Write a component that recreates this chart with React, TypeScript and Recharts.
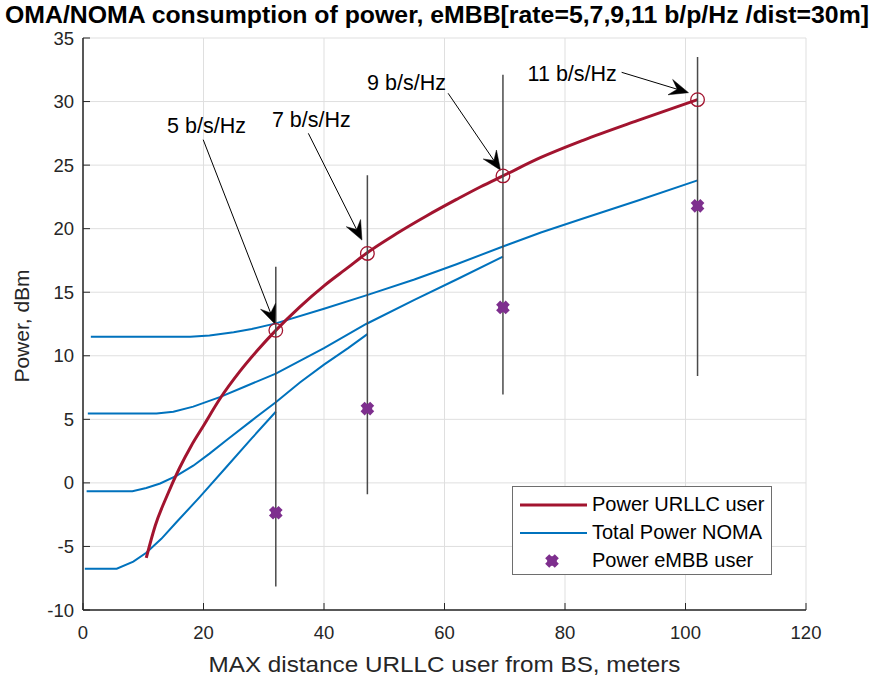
import React from 'react';
import {
  ComposedChart,
  Line,
  Scatter,
  XAxis,
  YAxis,
  CartesianGrid,
  ReferenceLine,
  ReferenceDot,
  Legend,
} from 'recharts';

const FONT = "'Liberation Sans', Arial, Helvetica, sans-serif";
const TITLE_FONT = "'Liberation Sans Narrow', 'Arial Narrow', 'Liberation Sans', Arial, sans-serif";
const RED = '#A2142F';
const BLUE = '#0072BD';
const PURPLE = '#7E2F8E';
const AXIS = '#262626';

const titleText = 'OMA/NOMA consumption  of power, eMBB[rate=5,7,9,11 b/p/Hz /dist=30m]';
const xLabelText = 'MAX distance URLLC user from BS, meters';
const yLabelText = 'Power, dBm';

const xTicks = [0, 20, 40, 60, 80, 100, 120];
const yTicks = [-10, -5, 0, 5, 10, 15, 20, 25, 30, 35];

// Power URLLC user (red curve)
const urllcX = [10.5, 12, 14, 16, 18, 20, 22.7, 26, 29, 32, 36, 40, 44, 47, 52, 57, 62, 66, 69.7, 76, 83, 92, 102];
const urllcY = [-5.9, -3.35, -0.95, 1.15, 2.95, 4.5, 6.6, 8.75, 10.45, 12.0, 13.85, 15.5, 16.95, 18.05, 19.6, 21.0, 22.3, 23.3, 24.15, 25.6, 26.95, 28.5, 30.15];

// Total Power NOMA (four blue curves)
const noma1X = [1.3, 17.8, 21, 25, 28, 32, 40, 47, 55, 62, 69.7, 76, 83, 92, 102];
const noma1Y = [11.5, 11.5, 11.6, 11.85, 12.1, 12.55, 13.7, 14.75, 16.0, 17.2, 18.6, 19.7, 20.8, 22.2, 23.8];
const noma2X = [0.8, 12.2, 15, 18.3, 22.7, 27, 32, 40, 47, 55, 62, 69.7];
const noma2Y = [5.45, 5.45, 5.6, 6.0, 6.75, 7.6, 8.6, 10.6, 12.5, 14.4, 16.0, 17.8];
const noma3X = [0.6, 8.2, 10.5, 12.8, 15.5, 18.3, 21, 23.8, 28, 32, 36, 40, 44, 47.2];
const noma3Y = [-0.65, -0.65, -0.4, -0.05, 0.55, 1.35, 2.3, 3.35, 4.9, 6.35, 7.9, 9.3, 10.6, 11.7];
const noma4X = [0.3, 5.6, 8.35, 10.5, 13, 15.5, 19.4, 23.8, 28, 32];
const noma4Y = [-6.75, -6.75, -6.2, -5.5, -4.4, -3.1, -1.1, 1.25, 3.5, 5.6];

// Rate points
const rateX = [32, 47.2, 69.7, 102];
const urllcMarkY = [12.0, 18.05, 24.15, 30.15];
const embbY = [-2.35, 5.85, 13.8, 21.8];
const barTop = [17.0, 24.2, 32.1, 33.5];
const barBottom = [-8.15, -0.9, 6.95, 8.4];

// Annotations
const rateLabels = ['5 b/s/Hz', '7 b/s/Hz', '9 b/s/Hz', '11 b/s/Hz'];
const labelX = [20.5, 37.9, 53.7, 81.2];
const labelY = [28.1, 28.6, 31.5, 32.2];
const arrowStartX = [19.95, 37.4, 60.6, 89.4];
const arrowStartY = [27.0, 27.5, 30.65, 32.3];
const arrowTipX = [31.85, 46.3, 69.3, 100.5];
const arrowTipY = [12.5, 19.1, 24.6, 30.7];

const legendNames = ['Power URLLC user', 'Total Power NOMA', 'Power eMBB user'];

const toPoints = (xs: number[], ys: number[]) => xs.map((x, i) => ({ x, y: ys[i] }));

const XMark = (props: any) => {
  const { cx, cy } = props;
  if (cx == null || cy == null) return null;
  const s = 4.8;
  return (
    <g>
      <path
        d={`M${cx - s},${cy - s}L${cx + s},${cy + s}M${cx - s},${cy + s}L${cx + s},${cy - s}`}
        stroke={PURPLE}
        strokeWidth={5.8}
        strokeLinecap="butt"
        fill="none"
      />
      <circle cx={cx} cy={cy} r={4.8} fill={PURPLE} />
    </g>
  );
};

const CircleMark = (props: any) => {
  const { cx, cy } = props;
  if (cx == null || cy == null) return null;
  return <circle cx={cx} cy={cy} r={6.8} fill="none" stroke={RED} strokeWidth={1.3} />;
};

const Arrow = (props: any) => {
  const { x1, y1, x2, y2 } = props;
  const dx = x2 - x1;
  const dy = y2 - y1;
  const len = Math.sqrt(dx * dx + dy * dy) || 1;
  const ux = dx / len;
  const uy = dy / len;
  const nx = -uy;
  const ny = ux;
  const L = 19;
  const W = 8;
  const notch = 0.62 * L;
  const bx = x2 - L * ux;
  const by = y2 - L * uy;
  const p = [
    [x2, y2],
    [bx + W * nx, by + W * ny],
    [x2 - notch * ux, y2 - notch * uy],
    [bx - W * nx, by - W * ny],
  ];
  return (
    <g>
      <line x1={x1} y1={y1} x2={x2 - notch * ux} y2={y2 - notch * uy} stroke="#000" strokeWidth={1} />
      <polygon points={p.map((q) => q.join(',')).join(' ')} fill="#000" stroke="#000" strokeWidth={0.5} />
    </g>
  );
};

const makeTextShape = (text: string) => (props: any) => {
  const { cx, cy } = props;
  return (
    <text x={cx} y={cy} dy="0.35em" textAnchor="middle" fontSize={21.5} fill="#000" fontFamily={FONT}>
      {text}
    </text>
  );
};

const renderXLabel = (props: any) => {
  const vb = props.viewBox || {};
  return (
    <text
      x={vb.x + vb.width / 2}
      y={vb.y + 62}
      textAnchor="middle"
      fontSize={22}
      fill={AXIS}
      fontFamily={FONT}
      textLength={472}
      lengthAdjust="spacingAndGlyphs"
    >
      {xLabelText}
    </text>
  );
};

const renderYLabel = (props: any) => {
  const vb = props.viewBox || {};
  const cx = 29;
  const cy = vb.y + vb.height / 2 + 2;
  return (
    <text x={cx} y={cy} transform={`rotate(-90, ${cx}, ${cy})`} textAnchor="middle" fontSize={21} fill={AXIS} fontFamily={FONT}>
      {yLabelText}
    </text>
  );
};

const renderLegend = () => (
  <div
    style={{
      position: 'relative',
      width: 260,
      height: 89,
      boxSizing: 'border-box',
      border: '1px solid #6e6e6e',
      background: '#fff',
      fontFamily: FONT,
      fontSize: 20,
      color: '#000',
    }}
  >
    {legendNames.map((name, i) => (
      <div key={name} style={{ position: 'absolute', left: 0, top: 4 + i * 28, height: 28, width: 258 }}>
        <svg width={76} height={28} style={{ position: 'absolute', left: 0, top: 0 }}>
          {i === 0 && <line x1={7} y1={14} x2={74} y2={14} stroke={RED} strokeWidth={3} />}
          {i === 1 && <line x1={7} y1={14} x2={74} y2={14} stroke={BLUE} strokeWidth={2} />}
          {i === 2 && <XMark cx={39} cy={14} />}
        </svg>
        <span style={{ position: 'absolute', left: 79, top: 1, lineHeight: '24px', whiteSpace: 'nowrap' }}>{name}</span>
      </div>
    ))}
  </div>
);

export default function App() {
  const nomaSets = [
    toPoints(noma1X, noma1Y),
    toPoints(noma2X, noma2Y),
    toPoints(noma3X, noma3Y),
    toPoints(noma4X, noma4Y),
  ];
  return (
    <div style={{ position: 'absolute', left: 0, top: 0, width: 874, height: 682, background: '#fff', fontFamily: FONT }}>
      <div style={{ position: 'absolute', left: 0, top: 0 }}>
        <ComposedChart width={874} height={682} margin={{ top: 38, right: 68, bottom: 32, left: 23 }} style={{ fontFamily: FONT }}>
          <CartesianGrid stroke="#dfdfdf" strokeWidth={1} />
          <XAxis
            type="number"
            dataKey="x"
            domain={[0, 120]}
            ticks={xTicks}
            interval={0}
            allowDataOverflow
            height={40}
            tickSize={-7}
            tickMargin={23}
            axisLine={{ stroke: AXIS, strokeWidth: 1.5 }}
            tickLine={{ stroke: AXIS, strokeWidth: 1 }}
            tick={{ fill: AXIS, fontSize: 18.5, fontFamily: FONT }}
            label={{ content: renderXLabel }}
          />
          <XAxis
            xAxisId="top"
            orientation="top"
            type="number"
            domain={[0, 120]}
            ticks={xTicks}
            interval={0}
            allowDataOverflow
            height={0}
            tickSize={-7}
            tick={false}
            axisLine={{ stroke: AXIS, strokeWidth: 1.5 }}
            tickLine={{ stroke: AXIS, strokeWidth: 1 }}
          />
          <YAxis
            type="number"
            domain={[-10, 35]}
            ticks={yTicks}
            interval={0}
            allowDataOverflow
            width={60}
            tickSize={-7}
            tickMargin={16}
            axisLine={{ stroke: AXIS, strokeWidth: 1.5 }}
            tickLine={{ stroke: AXIS, strokeWidth: 1 }}
            tick={{ fill: AXIS, fontSize: 18.5, fontFamily: FONT }}
            label={{ content: renderYLabel }}
          />
          <YAxis
            yAxisId="right"
            orientation="right"
            type="number"
            domain={[-10, 35]}
            ticks={yTicks}
            interval={0}
            allowDataOverflow
            width={0}
            tickSize={-7}
            tick={false}
            axisLine={{ stroke: AXIS, strokeWidth: 1.5 }}
            tickLine={{ stroke: AXIS, strokeWidth: 1 }}
          />
          {nomaSets.map((pts, i) => (
            <Line
              key={'noma' + i}
              data={pts}
              dataKey="y"
              type="linear"
              stroke={BLUE}
              strokeWidth={2}
              dot={false}
              activeDot={false}
              isAnimationActive={false}
              name="Total Power NOMA"
            />
          ))}
          <Line
            data={toPoints(urllcX, urllcY)}
            dataKey="y"
            type="monotone"
            stroke={RED}
            strokeWidth={3}
            dot={false}
            activeDot={false}
            isAnimationActive={false}
            name="Power URLLC user"
          />
          {rateX.map((x, i) => (
            <ReferenceLine
              key={'bar' + i}
              segment={[
                { x, y: barBottom[i] },
                { x, y: barTop[i] },
              ]}
              stroke="#4a4a4a"
              strokeWidth={1.5}
              ifOverflow="visible"
            />
          ))}
          <Scatter
            data={toPoints(rateX, urllcMarkY)}
            dataKey="y"
            shape={CircleMark}
            isAnimationActive={false}
            name="URLLC points"
          />
          <Scatter
            data={toPoints(rateX, embbY)}
            dataKey="y"
            shape={XMark}
            isAnimationActive={false}
            name="Power eMBB user"
          />
          {rateLabels.map((t, i) => (
            <ReferenceLine
              key={'arrow' + i}
              segment={[
                { x: arrowStartX[i], y: arrowStartY[i] },
                { x: arrowTipX[i], y: arrowTipY[i] },
              ]}
              ifOverflow="visible"
              shape={Arrow}
            />
          ))}
          {rateLabels.map((t, i) => (
            <ReferenceDot
              key={'lbl' + i}
              x={labelX[i]}
              y={labelY[i]}
              r={0}
              ifOverflow="visible"
              shape={makeTextShape(t)}
            />
          ))}
          <Legend
            layout="horizontal"
            verticalAlign="middle"
            align="center"
            wrapperStyle={{ position: 'absolute', left: 512, top: 486, width: 260, height: 89 }}
            content={renderLegend}
          />
        </ComposedChart>
      </div>
      <svg width={874} height={36} style={{ position: 'absolute', left: 0, top: 0 }}>
        <text
          x={437}
          y={23}
          textAnchor="middle"
          fontWeight="bold"
          fontSize={24}
          fontFamily={TITLE_FONT}
          fill="#000"
          textLength={864}
          lengthAdjust="spacingAndGlyphs"
        >
          {titleText}
        </text>
      </svg>
    </div>
  );
}
